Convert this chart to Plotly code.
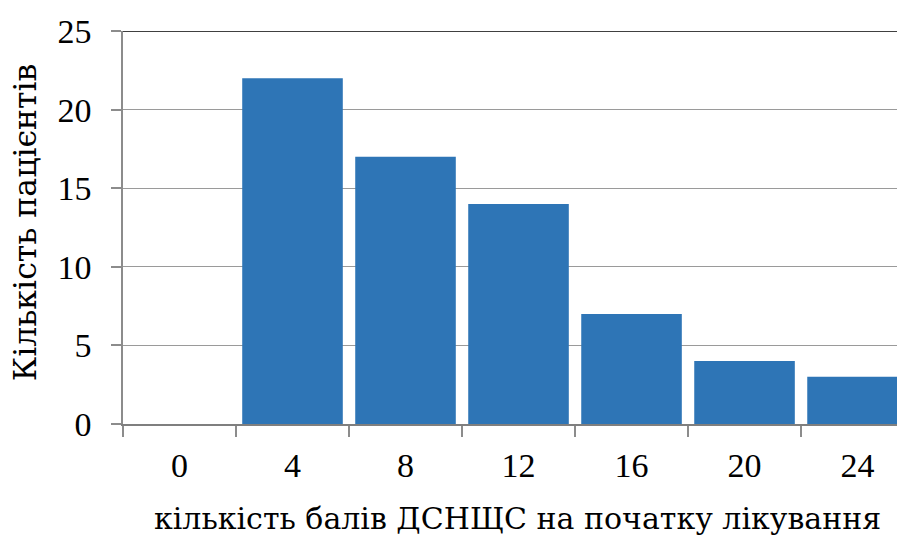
import plotly.graph_objects as go

categories = ["0", "4", "8", "12", "16", "20", "24"]
patients = [0, 22, 17, 14, 7, 4, 3]

x_title = "кількість балів ДСНЩС на початку лікування"
y_title = "Кількість пацієнтів"

font = dict(family="Liberation Serif", size=34, color="#000000")
# Liberation Serif has no Cyrillic here, DejaVu Serif does
y_title_font = dict(family="DejaVu Serif", size=31.5, color="#000000")
x_title_font = dict(family="DejaVu Serif", size=30, color="#000000")

fig = go.Figure()
fig.add_trace(go.Bar(
    x=categories,
    y=patients,
    marker=dict(color="#2E75B6", line=dict(width=0)),
))

# page body adds an 8px offset, so the figure is 8px smaller and shifted
fig.update_layout(
    width=897,
    height=528,
    margin=dict(l=115, r=0, t=23, b=112, autoexpand=False),
    paper_bgcolor="white",
    plot_bgcolor="white",
    font=font,
    bargap=0.11,
    showlegend=False,
)

fig.update_xaxes(
    type="category",
    range=[-0.5, 6.42],
    tickson="boundaries",
    ticks="outside",
    ticklen=11,
    tickcolor="#8c8c8c",
    tickwidth=1.5,
    showline=True,
    linecolor="#7f7f7f",
    linewidth=2,
    showgrid=False,
    tickfont=font,
    ticklabelstandoff=10,
    automargin=False,
)

fig.update_yaxes(
    range=[0, 25],
    tickvals=[0, 5, 10, 15, 20, 25],
    ticks="outside",
    ticklen=10,
    tickcolor="#8c8c8c",
    tickwidth=1.5,
    showline=True,
    linecolor="#8c8c8c",
    linewidth=1.5,
    showgrid=True,
    gridcolor="#9a9a9a",
    gridwidth=1.2,
    zeroline=False,
    tickfont=font,
    ticklabelstandoff=13,
    automargin=False,
)

# black top border at the 25 gridline
fig.add_shape(type="line", xref="paper", yref="y", x0=0, x1=1, y0=25, y1=25,
              line=dict(color="#000000", width=1.5))

fig.add_annotation(text=y_title, xref="paper", yref="paper", x=-0.125, y=0.514,
                   xanchor="center", yanchor="middle", textangle=-90,
                   showarrow=False, font=y_title_font)
fig.add_annotation(text=x_title, xref="paper", yref="paper", x=0.505, y=-0.24,
                   xanchor="center", yanchor="middle",
                   showarrow=False, font=x_title_font)

fig.write_html("out.html")
